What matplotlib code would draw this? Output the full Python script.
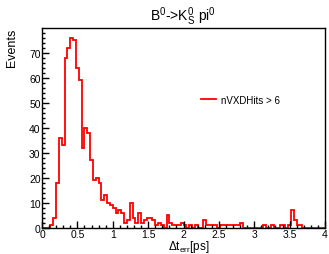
import numpy as np
import matplotlib
matplotlib.use("Agg")
import matplotlib.pyplot as plt
from matplotlib.ticker import MultipleLocator, FormatStrFormatter

# --- Data: histogram of Delta t_err, 100 bins from 0 to 4 ps ---
X_MIN, X_MAX, N_BINS = 0.0, 4.0, 100
counts = [
    0, 0, 0, 1, 4, 18, 36, 33, 68, 72,
    76, 75, 64, 59, 32, 40, 38, 27, 19, 20,
    18, 11, 13, 10, 9, 8, 6, 7, 6, 2,
    3, 10, 4, 2, 6, 2, 3, 4, 4, 3,
    1, 2, 1, 0, 5, 2, 1, 1, 1, 2,
    1, 0, 1, 0, 1, 0, 0, 3, 1, 1,
    1, 1, 0, 1, 1, 1, 1, 1, 1, 1,
    2, 0, 0, 0, 0, 0, 0, 0, 1, 0,
    0, 1, 0, 0, 1, 1, 0, 1, 7, 3,
    1, 1, 0, 0, 0, 0, 0, 0, 0, 0,
]
series_label = "nVXDHits > 6"
title = r"B$^0$->K$^0_S$ pi$^0$"

edges = np.linspace(X_MIN, X_MAX, N_BINS + 1)

plt.rcParams.update({
    "font.family": ["Liberation Sans", "DejaVu Sans"],
    "mathtext.fontset": "custom",
    "mathtext.rm": "Liberation Sans",
    "mathtext.it": "Liberation Sans",
})

fig = plt.figure(figsize=(3.29, 2.55), dpi=100)
ax = fig.add_axes([42 / 329, 1 - 229 / 255, 283 / 329, 200 / 255])

ax.stairs(counts, edges, color="#ff0000", linewidth=1.3, label=series_label)

ax.set_xlim(X_MIN, X_MAX)
ax.set_ylim(0, 79.8)

# ROOT-like ticks: inside, majors and minors
ax.xaxis.set_major_locator(MultipleLocator(0.5))
ax.xaxis.set_minor_locator(MultipleLocator(0.1))
ax.yaxis.set_major_locator(MultipleLocator(10))
ax.yaxis.set_minor_locator(MultipleLocator(2))
ax.xaxis.set_major_formatter(FormatStrFormatter("%g"))
ax.tick_params(which="both", direction="in", top=False, right=False, labelsize=7.5,
               width=1, pad=1)
ax.tick_params(which="major", length=5)
ax.tick_params(which="minor", length=2.5)
for s in ax.spines.values():
    s.set_linewidth(1)

ax.set_title(title, fontsize=10, pad=6)
ax.set_ylabel("Events", loc="top", fontsize=9, labelpad=8)
ax.set_xlabel(r"$\Delta$t$_{\mathrm{err}}$[ps]", fontsize=8.5)
ax.xaxis.set_label_coords(0.52, -0.05)

ax.legend(frameon=False, loc="upper left", bbox_to_anchor=(0.53, 0.71),
          fontsize=7, handlelength=1.6, handletextpad=0.5)

fig.savefig("out.png", dpi=100)
